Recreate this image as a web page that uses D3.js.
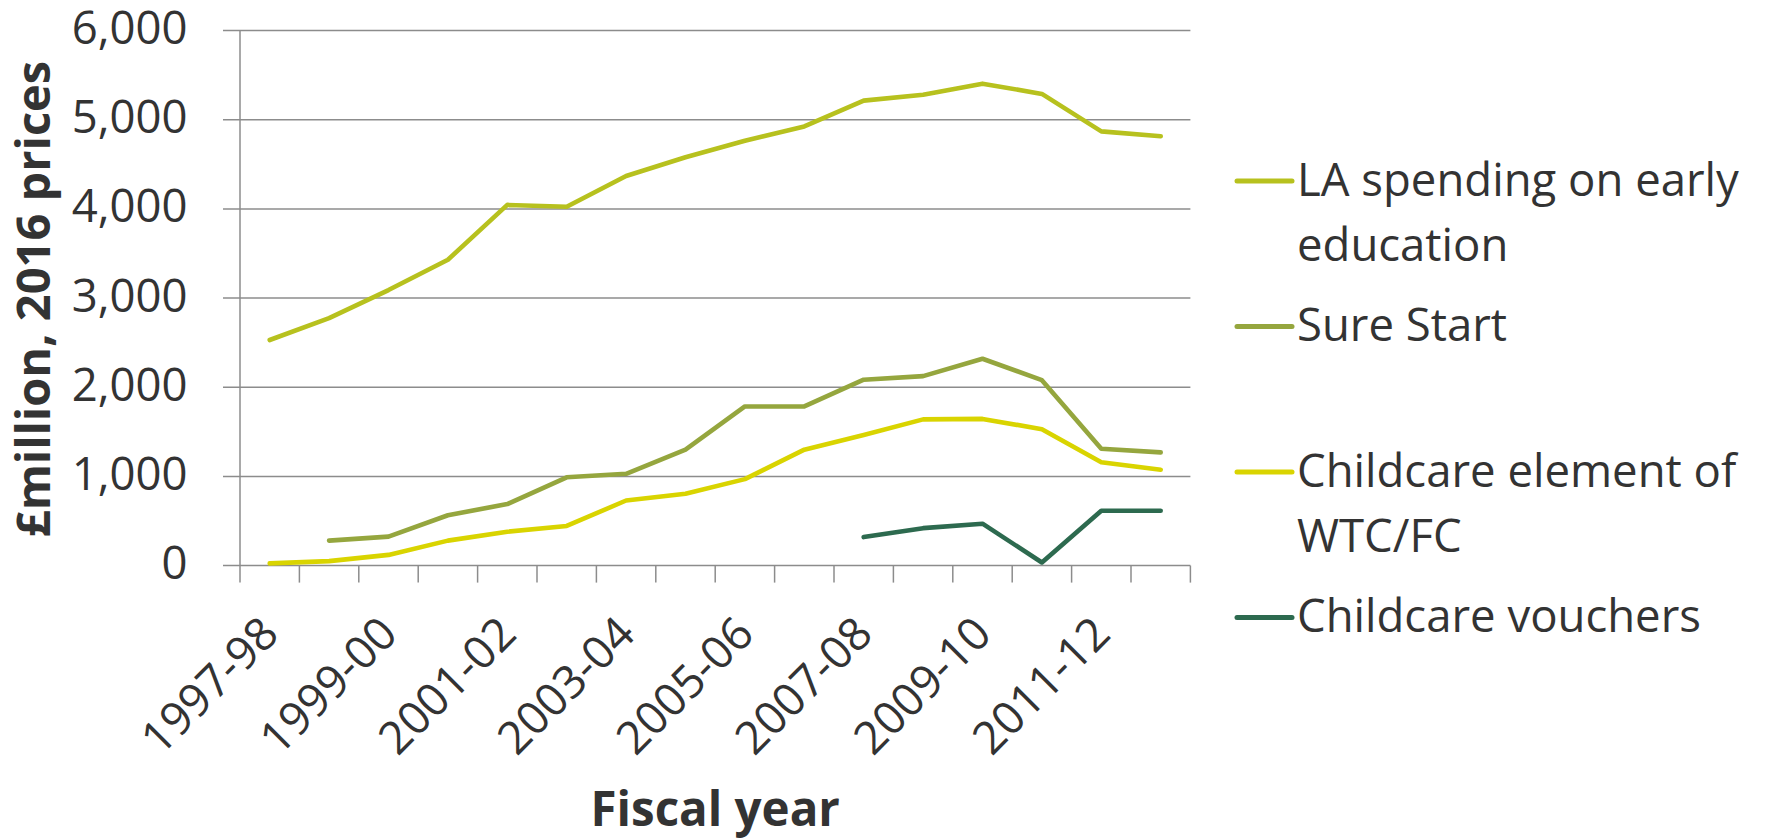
<!DOCTYPE html>
<html>
<head>
<meta charset="utf-8">
<script src="https://cdn.jsdelivr.net/npm/d3@7"></script>
<style>
  html, body { margin: 0; padding: 0; background: #ffffff; }
  svg { display: block; }
  text { font-family: "Open Sans", "Noto Sans", sans-serif; fill: #333333; }
</style>
</head>
<body>
<svg id="chart" width="1785" height="839"></svg>
<script>
const categories = ["1997-98","1998-99","1999-00","2000-01","2001-02","2002-03","2003-04","2004-05",
  "2005-06","2006-07","2007-08","2008-09","2009-10","2010-11","2011-12","2012-13"];
const tickLabels = ["1997-98","1999-00","2001-02","2003-04","2005-06","2007-08","2009-10","2011-12"];
const yTicks = [0, 1000, 2000, 3000, 4000, 5000, 6000];

const laSpending = [2530, 2775, 3090, 3430, 4045, 4025, 4370, 4580, 4765, 4925, 5215, 5280, 5405, 5290, 4870, 4815];
const sureStart = [null, 280, 325, 565, 690, 990, 1030, 1300, 1785, 1785, 2085, 2125, 2320, 2080, 1310, 1270];
const childcareElement = [25, 50, 120, 280, 380, 445, 730, 805, 970, 1300, 1465, 1640, 1645, 1530, 1160, 1075];
const childcareVouchers = [null, null, null, null, null, null, null, null, null, null, 320, 420, 470, 35, 615, 615];

const seriesNames = [["LA spending on early", "education"], ["Sure Start"], ["Childcare element of", "WTC/FC"], ["Childcare vouchers"]];
const seriesColors = ["#b7c11e", "#95a63e", "#d9d400", "#2d6a4f"];
const seriesValues = [laSpending, sureStart, childcareElement, childcareVouchers];

(function () {
const svg = d3.select("#chart");
const pLeft = 240, pRight = 1190.4, pTop = 30.6, pBottom = 565.6;

const x = d3.scaleBand().domain(categories).range([pLeft, pRight]).padding(0);
const y = d3.scaleLinear().domain([0, 6000]).range([pBottom, pTop]);

const gridColor = "#8c8c8c";

// gridlines (with outside tick stubs)
svg.append("g").selectAll("line").data(yTicks).join("line")
  .attr("x1", pLeft - 17).attr("x2", pRight)
  .attr("y1", d => y(d)).attr("y2", d => y(d))
  .attr("stroke", gridColor).attr("stroke-width", 1.5);

// y axis line
svg.append("line").attr("x1", pLeft).attr("x2", pLeft).attr("y1", pTop).attr("y2", pBottom)
  .attr("stroke", gridColor).attr("stroke-width", 1.5);

// y tick labels
svg.append("g").selectAll("text").data(yTicks).join("text")
  .attr("x", 187.5).attr("y", d => y(d) + 13.5)
  .attr("text-anchor", "end").attr("font-size", 45.5)
  .text(d3.format(","));

// x axis ticks at band boundaries
const boundaries = categories.map(c => x(c)).concat([pRight]);
svg.append("g").selectAll("line").data(boundaries).join("line")
  .attr("x1", d => d).attr("x2", d => d)
  .attr("y1", pBottom).attr("y2", pBottom + 17)
  .attr("stroke", gridColor).attr("stroke-width", 1.5);

// x tick labels
svg.append("g").selectAll("text").data(tickLabels).join("text")
  .attr("transform", d => `translate(${x(d) + x.bandwidth() / 2},625) rotate(-45)`)
  .attr("text-anchor", "end").attr("dy", "0.35em").attr("font-size", 45.5)
  .text(d => d);

// lines
const line = d3.line()
  .defined(d => d.v !== null)
  .x(d => x(d.c) + x.bandwidth() / 2)
  .y(d => y(d.v));

seriesValues.forEach((vals, i) => {
  svg.append("path")
    .datum(vals.map((v, j) => ({ c: categories[j], v })))
    .attr("d", line)
    .attr("fill", "none")
    .attr("stroke", seriesColors[i])
    .attr("stroke-width", 4.6)
    .attr("stroke-linecap", "round")
    .attr("stroke-linejoin", "round");
});

// axis titles
svg.append("text")
  .attr("transform", "translate(50,299) rotate(-90)")
  .attr("text-anchor", "middle").attr("font-size", 47).attr("font-weight", "bold")
  .text("£million, 2016 prices");

svg.append("text")
  .attr("x", (pLeft + pRight) / 2).attr("y", 826)
  .attr("text-anchor", "middle").attr("font-size", 47.5).attr("font-weight", "bold")
  .text("Fiscal year");

// legend
const legendY = [181, 326.5, 472, 617.5];
const lg = svg.append("g");
seriesNames.forEach((lines, i) => {
  const g = lg.append("g").attr("transform", `translate(0,${legendY[i]})`);
  g.append("line").attr("x1", 1237).attr("x2", 1292).attr("y1", 0).attr("y2", 0)
    .attr("stroke", seriesColors[i]).attr("stroke-width", 5).attr("stroke-linecap", "round");
  const t = g.append("text").attr("x", 1297).attr("y", 14.5).attr("font-size", 45.5);
  lines.forEach((s, k) => {
    t.append("tspan").attr("x", 1297).attr("dy", k === 0 ? 0 : 65).text(s);
  });
});
})();
</script>
</body>
</html>
